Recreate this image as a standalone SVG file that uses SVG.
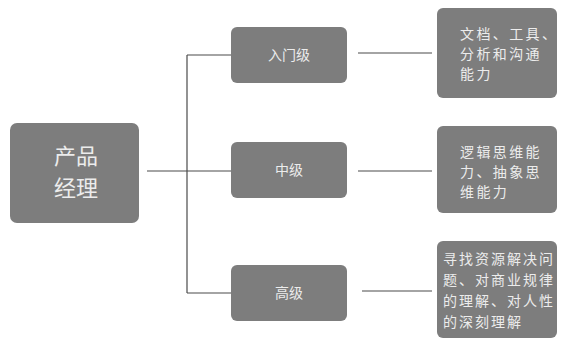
<svg xmlns="http://www.w3.org/2000/svg" width="561" height="339" viewBox="0 0 561 339">
<style>
.box{fill:#7d7d7d;}
.t{fill:#ececec;font-family:"Noto Sans CJK SC","Liberation Sans",sans-serif;}
.c{text-anchor:middle;}
.s{font-size:14px;letter-spacing:2.4px;}
.ln{stroke:#4a4a4a;stroke-width:1.2;fill:none;}
</style>
<rect width="561" height="339" fill="#ffffff"/>
<g id="connectors">
<line class="ln" x1="147" y1="171" x2="231" y2="171"/>
<line class="ln" x1="187" y1="55" x2="187" y2="293"/>
<line class="ln" x1="187" y1="55" x2="231" y2="55"/>
<line class="ln" x1="187" y1="293" x2="231" y2="293"/>
<line class="ln" x1="358" y1="53" x2="432" y2="53"/>
<line class="ln" x1="358" y1="171" x2="432" y2="171"/>
<line class="ln" x1="362" y1="291" x2="432" y2="291"/>
</g>
<g id="pm">
<rect class="box" x="10" y="123" width="129" height="100" rx="7"/>
<text class="t c" x="76" y="164" font-size="22">产品</text>
<text class="t c" x="76" y="196" font-size="22">经理</text>
</g>
<g id="entry">
<rect class="box" x="231" y="27" width="116" height="56" rx="6"/>
<text class="t c" x="289" y="60" font-size="14">入门级</text>
</g>
<g id="mid">
<rect class="box" x="231" y="142" width="116" height="56" rx="6"/>
<text class="t c" x="289" y="175" font-size="14">中级</text>
</g>
<g id="high">
<rect class="box" x="231" y="265" width="116" height="56" rx="6"/>
<text class="t c" x="289" y="298" font-size="14">高级</text>
</g>
<g id="d1">
<rect class="box" x="437" y="8" width="120" height="90" rx="6"/>
<text class="t s" x="460" y="39">文档、工具、</text>
<text class="t s" x="460" y="59">分析和沟通</text>
<text class="t s" x="460" y="79">能力</text>
</g>
<g id="d2">
<rect class="box" x="437" y="126" width="120" height="87" rx="6"/>
<text class="t s" x="460" y="157">逻辑思维能</text>
<text class="t s" x="460" y="177">力、抽象思</text>
<text class="t s" x="460" y="197">维能力</text>
</g>
<g id="d3">
<rect class="box" x="437" y="241" width="120" height="97" rx="6"/>
<text class="t s" x="443" y="264" style="letter-spacing:2px">寻找资源解决问</text>
<text class="t s" x="443" y="285" style="letter-spacing:2px">题、对商业规律</text>
<text class="t s" x="443" y="306" style="letter-spacing:2px">的理解、对人性</text>
<text class="t s" x="443" y="327" style="letter-spacing:2px">的深刻理解</text>
</g>
</svg>
